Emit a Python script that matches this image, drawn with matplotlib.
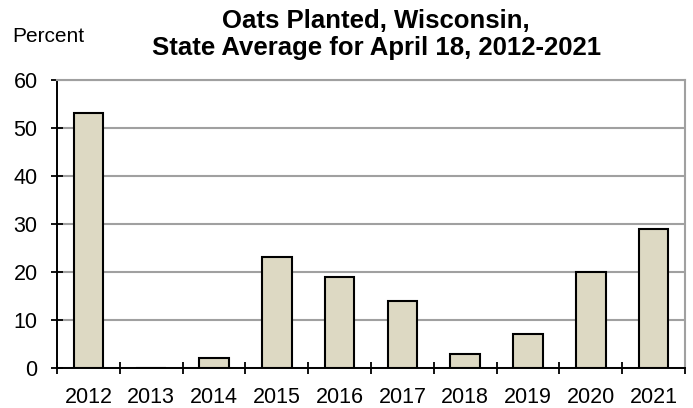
import matplotlib.pyplot as plt
import numpy as np

plt.rcParams['font.family'] = ['Liberation Sans', 'DejaVu Sans']

years = ['2012', '2013', '2014', '2015', '2016', '2017', '2018', '2019', '2020', '2021']
planted = [53, 0, 2, 23, 19, 14, 3, 7, 20, 29]
yticks = [0, 10, 20, 30, 40, 50, 60]

fig = plt.figure(figsize=(6.93, 4.08), dpi=100)
ax = fig.add_axes([57/693, 40/408, 628/693, 288.5/408])

x = np.arange(len(years))
ax.bar(x, planted, width=0.47, color='#DDD9C3', edgecolor='black', linewidth=1.5, zorder=3)

ax.set_xlim(-0.5, len(years) - 0.5)
ax.set_ylim(0, 60)
ax.set_yticks(yticks)
ax.yaxis.grid(True, color='#A0A0A0', linewidth=1.5, zorder=0)

# category boundaries as tick marks, labels at centers
ax.set_xticks(np.arange(-0.5, len(years)), minor=False)
ax.set_xticklabels([])
ax.set_xticks(x, minor=True)
ax.set_xticklabels(years, minor=True)
ax.tick_params(axis='x', which='major', direction='inout', length=8, width=1.3, color='black')
ax.tick_params(axis='x', which='minor', length=0, labelsize=15.5, pad=14)
ax.tick_params(axis='y', direction='inout', length=8, width=1.3, labelsize=15.5, pad=10)

ax.spines['left'].set_linewidth(1.4)
ax.spines['bottom'].set_linewidth(1.4)
ax.spines['top'].set_color('#A0A0A0')
ax.spines['right'].set_color('#A0A0A0')
ax.spines['top'].set_linewidth(1.5)
ax.spines['right'].set_linewidth(1.5)

fig.text(0.543, 1 - 27.5/408, 'Oats Planted, Wisconsin,',
         ha='center', va='baseline', fontsize=18.5, fontweight='bold')
fig.text(0.543, 1 - 55/408, 'State Average for April 18, 2012-2021',
         ha='center', va='baseline', fontsize=18.5, fontweight='bold')
fig.text(12/693, 1 - 42/408, 'Percent', ha='left', va='baseline', fontsize=15)

fig.savefig('out.png', dpi=100)
